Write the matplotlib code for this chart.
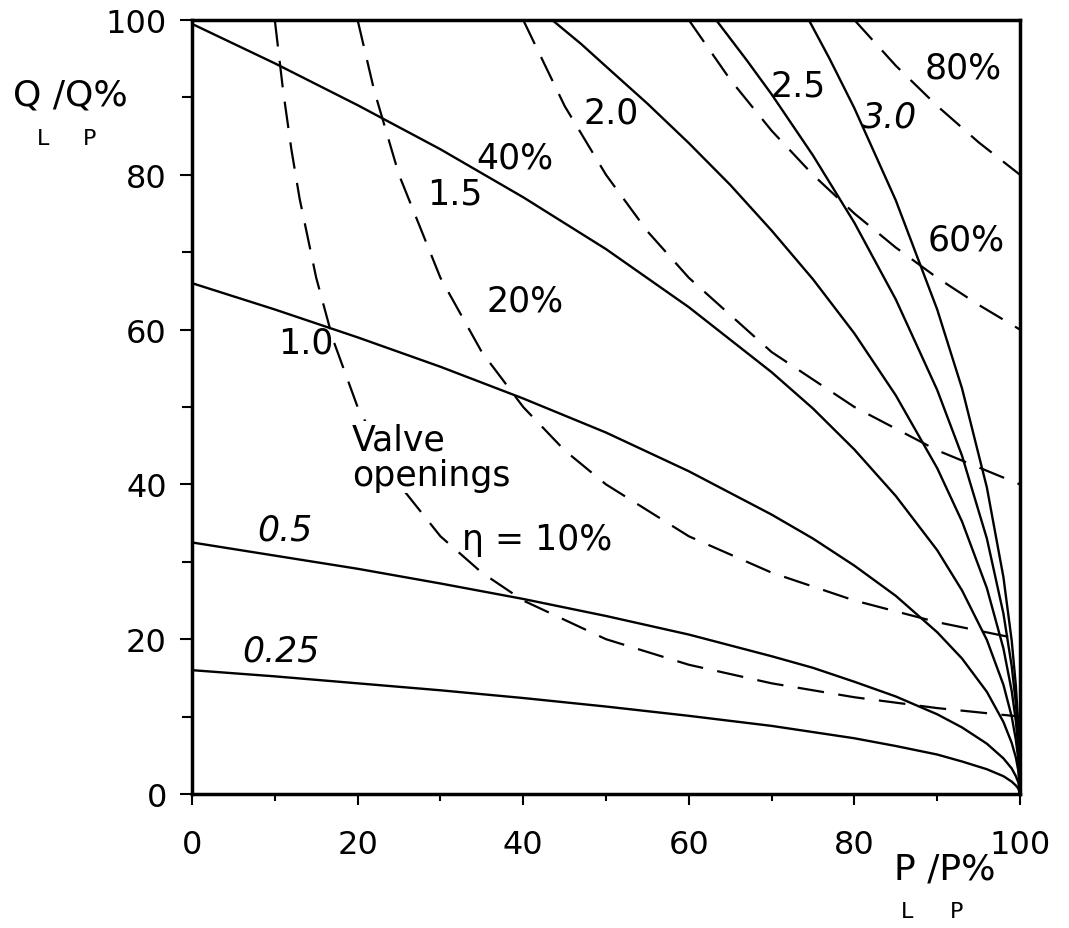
import matplotlib

matplotlib.use("Agg")
import matplotlib.pyplot as plt
from matplotlib.ticker import MultipleLocator

# pump/system curves (solid), labelled by resistance ratio
P_LOW = [0, 10, 20, 30, 40, 50, 60, 70, 75, 80, 85, 90, 93, 96, 98, 99, 99.5, 99.8, 100]
Q_025 = [16.0, 15.2, 14.3, 13.4, 12.4, 11.3, 10.1, 8.8, 8.0, 7.2, 6.2, 5.1, 4.2, 3.2, 2.3, 1.6, 1.1, 0.7, 0.0]
Q_05 = [32.5, 30.8, 29.1, 27.2, 25.2, 23.0, 20.6, 17.8, 16.3, 14.5, 12.6, 10.3, 8.6, 6.5, 4.6, 3.3, 2.3, 1.5, 0.0]
Q_10 = [66.0, 62.6, 59.0, 55.2, 51.1, 46.7, 41.7, 36.1, 33.0, 29.5, 25.6, 20.9, 17.5, 13.2, 9.3, 6.6, 4.7, 3.0, 0.0]
Q_15 = [99.5, 94.4, 89.0, 83.3, 77.1, 70.4, 62.9, 54.5, 49.8, 44.5, 38.5, 31.5, 26.3, 19.9, 14.1, 10.0, 7.0, 4.4, 0.0]

P_20 = [43.5, 47, 50, 55, 60, 65, 70, 75, 80, 85, 90, 93, 96, 98, 99, 99.5, 99.8, 100]
Q_20 = [100.0, 96.9, 94.0, 89.2, 84.1, 78.7, 72.8, 66.5, 59.5, 51.5, 42.1, 35.2, 26.6, 18.8, 13.3, 9.4, 5.9, 0.0]

P_25 = [63.3, 67, 70, 75, 80, 85, 90, 93, 96, 98, 99, 99.5, 99.8, 100]
Q_25 = [100.0, 94.8, 90.4, 82.5, 73.8, 63.9, 52.2, 43.7, 33.0, 23.3, 16.5, 11.7, 7.4, 0.0]

P_30 = [74.5, 77, 80, 85, 90, 93, 96, 98, 99, 99.5, 99.8, 100]
Q_30 = [100.0, 95.0, 88.6, 76.7, 62.6, 52.4, 39.6, 28.0, 19.8, 14.0, 8.9, 0.0]

# valve opening curves (dashed)
ETA_10_P = [10, 11, 12, 13, 15, 17, 20, 25, 30, 35, 40, 50, 60, 70, 80, 90, 100]
ETA_10_Q = [100, 90.9, 83.3, 76.9, 66.7, 58.8, 50.0, 40.0, 33.3, 28.6, 25.0, 20.0, 16.7, 14.3, 12.5, 11.1, 10.0]
ETA_20_P = [20, 22, 25, 30, 35, 40, 45, 50, 60, 70, 80, 90, 100]
ETA_20_Q = [100, 90.9, 80.0, 66.7, 57.1, 50.0, 44.4, 40.0, 33.3, 28.6, 25.0, 22.2, 20.0]
ETA_40_P = [40, 45, 50, 55, 60, 70, 80, 90, 100]
ETA_40_Q = [100, 88.9, 80.0, 72.7, 66.7, 57.1, 50.0, 44.4, 40.0]
ETA_60_P = [60, 65, 70, 75, 80, 85, 90, 95, 100]
ETA_60_Q = [100, 92.3, 85.7, 80.0, 75.0, 70.6, 66.7, 63.2, 60.0]
ETA_80_P = [80, 85, 90, 95, 100]
ETA_80_Q = [100, 94.1, 88.9, 84.2, 80.0]

SOLID_CURVES = [
    (P_LOW, Q_025), (P_LOW, Q_05), (P_LOW, Q_10), (P_LOW, Q_15),
    (P_20, Q_20), (P_25, Q_25), (P_30, Q_30),
]
DASHED_CURVES = [
    (ETA_10_P, ETA_10_Q), (ETA_20_P, ETA_20_Q), (ETA_40_P, ETA_40_Q),
    (ETA_60_P, ETA_60_Q), (ETA_80_P, ETA_80_Q),
]

# curve labels: text, P, Q, italic
CURVE_LABELS = [
    ("0.25", 10.7, 18.5, True),
    ("0.5", 11.2, 34.2, True),
    ("1.0", 13.8, 58.3, False),
    ("1.5", 31.8, 77.6, False),
    ("2.0", 50.6, 88.1, False),
    ("2.5", 73.2, 91.5, False),
    ("3.0", 84.2, 87.5, True),
    ("40%", 39.0, 82.2, False),
    ("20%", 40.2, 63.8, False),
    ("80%", 93.1, 93.8, False),
    ("60%", 93.5, 71.6, False),
    ("\u03b7 = 10%", 41.7, 32.9, False),
]

X_TICKS = [0, 20, 40, 60, 80, 100]
Y_TICKS = [0, 20, 40, 60, 80, 100]

W, H = 1069, 929


def fx(px):
    return px / W


def fy(py):
    return 1 - py / H


def build():
    plt.rcParams["font.family"] = ["DejaVu Sans"]
    fig = plt.figure(figsize=(W / 100, H / 100), dpi=100)
    ax = fig.add_axes([fx(192), fy(795), fx(1020) - fx(192), fy(21) - fy(795)])

    for p, q in SOLID_CURVES:
        ax.plot(p, q, color="black", linewidth=1.7, solid_capstyle="round")
    for p, q in DASHED_CURVES:
        ax.plot(p, q, color="black", linewidth=1.6, dashes=(12, 6.5))

    for text, p, q, italic in CURVE_LABELS:
        ax.text(p, q, text, fontsize=25, ha="center", va="center",
                style="italic" if italic else "normal")
    ax.text(19.3, 43.5, "Valve\nopenings", fontsize=25, ha="left", va="center",
            linespacing=1.05, bbox=dict(facecolor="white", edgecolor="none", pad=1))

    ax.set_xlim(0, 100)
    ax.set_ylim(0, 100)
    ax.set_xticks(X_TICKS)
    ax.set_yticks(Y_TICKS)
    ax.xaxis.set_minor_locator(MultipleLocator(10))
    ax.yaxis.set_minor_locator(MultipleLocator(10))
    ax.tick_params(axis="x", which="major", direction="out", length=8, width=1.5,
                   labelsize=23, pad=17)
    ax.tick_params(axis="x", which="minor", direction="out", length=5, width=1.5)
    ax.tick_params(axis="y", which="major", direction="out", length=9, width=1.5,
                   labelsize=23, pad=9)
    ax.tick_params(axis="y", which="minor", direction="out", length=7, width=1.5)
    for spine in ax.spines.values():
        spine.set_linewidth(2.5)

    # axis titles with subscripts drawn underneath, as in the original
    fig.text(fx(70), fy(95), "Q /Q%", fontsize=26, ha="center", va="center")
    fig.text(fx(43), fy(139), "L", fontsize=16, ha="center", va="center")
    fig.text(fx(90), fy(139), "P", fontsize=16, ha="center", va="center")
    fig.text(fx(945), fy(870), "P /P%", fontsize=26, ha="center", va="center")
    fig.text(fx(907), fy(912), "L", fontsize=16, ha="center", va="center")
    fig.text(fx(957), fy(912), "P", fontsize=16, ha="center", va="center")

    fig.savefig("out.png", dpi=100)
    plt.close(fig)


if __name__ == "__main__":
    build()
